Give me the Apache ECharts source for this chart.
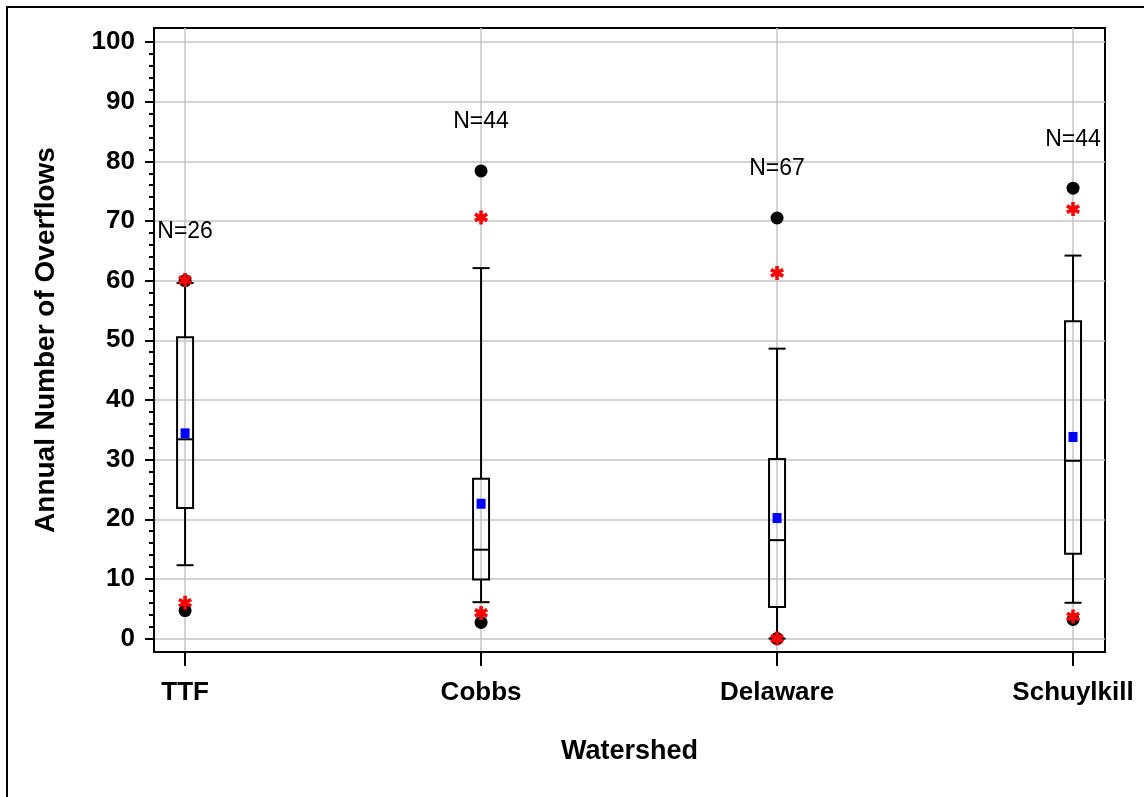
<!DOCTYPE html>
<html>
<head>
<meta charset="utf-8">
<title>Annual Number of Overflows by Watershed</title>
<script src="https://cdn.jsdelivr.net/npm/echarts/dist/echarts.min.js"></script>
<style>
  html, body { margin: 0; padding: 0; background: #fff; }
  #chart { width: 1144px; height: 797px; }
</style>
</head>
<body>
<div id="chart"></div>
<script>
// watersheds (x positions 0..3)
const categories = ['TTF', 'Cobbs', 'Delaware', 'Schuylkill']
const nCounts = [26, 44, 67, 44]

// box + whiskers
const whiskerLow = [12.3, 6.1, 0, 6.0]
const q1 = [21.9, 9.9, 5.3, 14.2]
const median = [33.4, 14.9, 16.5, 29.8]
const q3 = [50.5, 26.8, 30.1, 53.2]
const whiskerHigh = [59.6, 62.1, 48.6, 64.2]

// markers
const means = [34.4, 22.6, 20.2, 33.8]        // blue squares
const minVals = [4.7, 2.7, 0, 3.2]            // black dots
const maxVals = [60.0, 78.4, 70.5, 75.5]      // black dots
const lowPct = [6.0, 4.3, 0, 3.7]             // red stars
const highPct = [60.1, 70.6, 61.3, 72.0]      // red stars

// axis ticks
const yTicks = [0, 10, 20, 30, 40, 50, 60, 70, 80, 90, 100]
const yMinorTicks = yTicks.flatMap(t => [t + 2, t + 4, t + 6, t + 8]).filter(v => v < 100)
const xTicks = [0, 1, 2, 3]

const FONT = '"Liberation Sans", Arial, Helvetica, sans-serif'

// asterisk made of three thick bars
const STAR = 'path://M12.6 20L7.4 20L7.4 0L12.6 0Z M20.16 12.4L17.56 16.9L-0.16 7.6L2.44 3.1Z M2.44 16.9L-0.16 12.4L17.56 3.1L20.16 7.6Z'

const boxData = categories.map((c, i) => [i, whiskerLow[i], q1[i], median[i], q3[i], whiskerHigh[i]])
const pairs = arr => arr.map((v, i) => [i, v])

function renderBox(params, api) {
  const x = api.value(0)
  const lo = api.coord([x, api.value(1)])
  const b1 = api.coord([x, api.value(2)])
  const md = api.coord([x, api.value(3)])
  const b3 = api.coord([x, api.value(4)])
  const hi = api.coord([x, api.value(5)])
  const hw = 8.5
  const st = { stroke: '#000', lineWidth: 2, fill: null }
  const line = (x1, y1, x2, y2) => ({ type: 'line', shape: { x1, y1, x2, y2 }, style: st })
  return {
    type: 'group',
    children: [
      line(hi[0], hi[1], b3[0], b3[1]),            // upper whisker
      line(hi[0] - hw, hi[1], hi[0] + hw, hi[1]),  // upper cap
      line(lo[0], lo[1], b1[0], b1[1]),            // lower whisker
      line(lo[0] - hw, lo[1], lo[0] + hw, lo[1]),  // lower cap
      { type: 'rect', shape: { x: b3[0] - hw + 0.5, y: b3[1], width: 2 * hw - 1, height: b1[1] - b3[1] }, style: st },
      line(md[0] - hw + 0.5, md[1], md[0] + hw - 0.5, md[1])  // median
    ]
  }
}

const chart = echarts.init(document.getElementById('chart'), null, { renderer: 'canvas' })

const option = {
  backgroundColor: '#fff',
  animation: false,
  textStyle: { fontFamily: FONT },
  graphic: [
    { type: 'rect', shape: { x: 7, y: 7, width: 1300, height: 900 }, style: { fill: 'none', stroke: '#000', lineWidth: 2 }, z: 0 }
  ],
  grid: {
    left: 154, top: 28, right: 39, bottom: 145,
    show: true, borderColor: '#000', borderWidth: 2, backgroundColor: 'transparent'
  },
  xAxis: {
    type: 'value',
    min: -0.105,
    max: 3.108,
    name: 'Watershed',
    nameLocation: 'middle',
    nameGap: 86,
    nameTextStyle: { fontFamily: FONT, fontWeight: 'bold', fontSize: 27, color: '#000' },
    axisLine: { show: true, onZero: false, lineStyle: { color: '#000', width: 2 } },
    axisTick: { show: true, customValues: xTicks, length: 14, lineStyle: { color: '#000', width: 2 } },
    axisLabel: {
      customValues: xTicks,
      margin: 28,
      fontFamily: FONT, fontWeight: 'bold', fontSize: 26, color: '#000',
      formatter: v => categories[v]
    },
    splitLine: { show: true, lineStyle: { color: '#c4c4c4', width: 1.5 } }
  },
  yAxis: [
    {
      type: 'value',
      position: 'left',
      min: -2.25,
      max: 102.35,
      name: 'Annual Number of Overflows',
      nameLocation: 'middle',
      nameGap: 94,
      nameTextStyle: { fontFamily: FONT, fontWeight: 'bold', fontSize: 28, color: '#000' },
      axisLine: { show: true, onZero: false, lineStyle: { color: '#000', width: 2 } },
      axisTick: { show: true, customValues: yTicks, length: 9, lineStyle: { color: '#000', width: 2 } },
      axisLabel: { customValues: yTicks, margin: 19, fontFamily: FONT, fontWeight: 'bold', fontSize: 26, color: '#000' },
      splitLine: { show: true, lineStyle: { color: '#c4c4c4', width: 1.5 } }
    },
    {
      // only minor ticks
      type: 'value',
      position: 'left',
      min: -2.25,
      max: 102.35,
      axisLine: { show: false, onZero: false },
      axisTick: { show: true, customValues: yMinorTicks, length: 5, lineStyle: { color: '#000', width: 2 } },
      axisLabel: { show: false },
      splitLine: { show: false }
    }
  ],
  series: [
    {
      type: 'custom',
      name: 'box',
      renderItem: renderBox,
      data: boxData,
      encode: { x: 0, y: [1, 2, 3, 4, 5] },
      z: 3
    },
    {
      type: 'scatter',
      name: 'extremes',
      symbol: 'circle',
      symbolSize: 13,
      itemStyle: { color: '#000', opacity: 1 },
      data: pairs(minVals).concat(pairs(maxVals)),
      z: 4
    },
    {
      type: 'scatter',
      name: 'percentiles',
      symbol: STAR,
      symbolSize: 14,
      itemStyle: { color: '#ff0000', opacity: 1 },
      data: pairs(lowPct).concat(pairs(highPct)),
      z: 5
    },
    {
      type: 'scatter',
      name: 'mean',
      symbol: 'rect',
      symbolSize: [9, 10],
      itemStyle: { color: '#0000ff', opacity: 1 },
      data: pairs(means),
      z: 6
    },
    {
      // N= labels above each maximum
      type: 'scatter',
      name: 'counts',
      symbolSize: 0,
      silent: true,
      itemStyle: { opacity: 1, color: '#000' },
      data: pairs(maxVals),
      label: {
        show: true,
        position: 'inside',
        offset: [0, -49],
        fontFamily: FONT,
        fontSize: 23,
        color: '#000',
        opacity: 1,
        formatter: p => 'N=' + nCounts[p.dataIndex]
      },
      z: 7
    }
  ]
}

chart.setOption(option)
</script>
</body>
</html>
